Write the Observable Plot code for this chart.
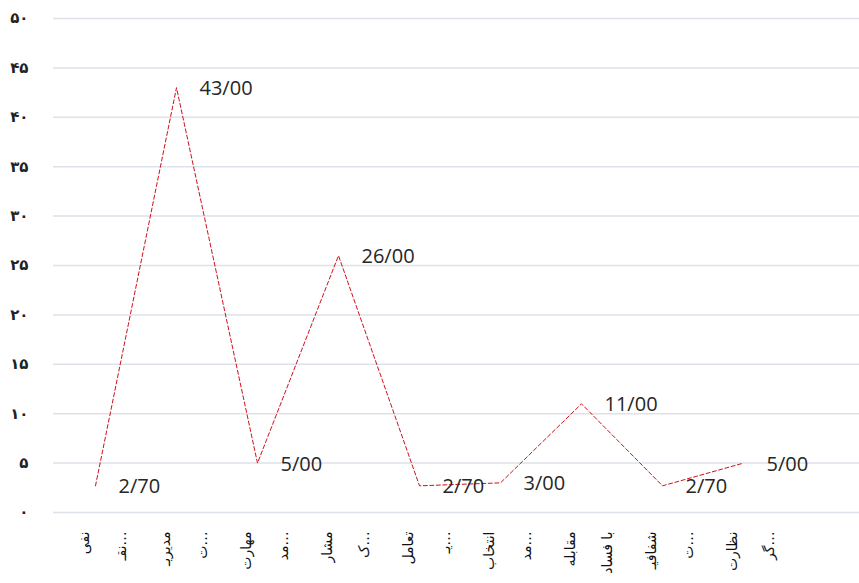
<!DOCTYPE html>
<html>
<head>
<meta charset="utf-8">
<script src="https://cdn.jsdelivr.net/npm/d3@7"></script>
<script src="https://cdn.jsdelivr.net/npm/@observablehq/plot@0.6"></script>
<style>
  html, body { margin: 0; padding: 0; background: #fff; }
  #chart svg { display: block; }
</style>
</head>
<body>
<div id="chart"></div>
<script>
// Categories (two-line, truncated labels as shown in the reference)
const categories = ["c1", "c2", "c3", "c4", "c5", "c6", "c7", "c8", "c9"];
const labelLine1 = ["نفی", "مدیریـ", "مهارت", "مشار", "تعامل", "انتخاب", "مقابله", "شفافیـ", "نظارت"];
const labelLine2 = ["نقـ…", "ت…", "مد…", "ک…", "يـ…", "مد…", "با فساد", "ت…", "گر…"];
const values = [2.7, 43, 5, 26, 2.7, 3, 11, 2.7, 5];
const yTicks = [0, 5, 10, 15, 20, 25, 30, 35, 40, 45, 50];

const data = categories.map((c, i) => ({cat: c, value: values[i], l1: labelLine1[i], l2: labelLine2[i]}));

const persianDigits = "۰۱۲۳۴۵۶۷۸۹";
const toPersian = (n) => String(n).replace(/[0-9]/g, d => persianDigits[+d]);
const fmtLabel = (v) => d3.format(".2f")(v).replace(".", "/");

const chart = Plot.plot({
  width: 859,
  height: 583,
  marginLeft: 53,
  marginRight: 0,
  marginTop: 18,
  marginBottom: 71,
  style: {background: "#ffffff", overflow: "visible"},
  x: {type: "point", domain: categories, range: [94, 743], padding: 0, axis: null},
  y: {domain: [0, 50], ticks: yTicks, label: null},
  marks: [
    Plot.gridY(yTicks, {stroke: "#dde2ea", strokeOpacity: 1, strokeWidth: 1.5}),
    Plot.axisY(yTicks, {
      tickSize: 0, tickPadding: 25, tickFormat: toPersian, label: null,
      fontSize: 15, fontWeight: "bold", fontFamily: "DejaVu Sans", fill: "#222", textAnchor: "end"
    }),
    Plot.line(data, {x: "cat", y: "value", stroke: "#d0101c", strokeWidth: 1, strokeDasharray: "4,2.5"}),
    Plot.text(data, {
      x: "cat", y: "value", text: d => fmtLabel(d.value),
      textAnchor: "start", dx: 23, dy: 1,
      fontSize: 20, fontFamily: "Open Sans", fill: "#262626"
    }),
    Plot.text(data, {
      x: "cat", text: d => d.l1 + "\n" + d.l2,
      frameAnchor: "bottom", dy: 19, rotate: -90,
      textAnchor: "end", lineAnchor: "middle", lineHeight: 2.7,
      fontSize: 14, fontFamily: "DejaVu Sans", fill: "#111"
    })
  ]
});
document.getElementById("chart").appendChild(chart);
</script>
</body>
</html>
